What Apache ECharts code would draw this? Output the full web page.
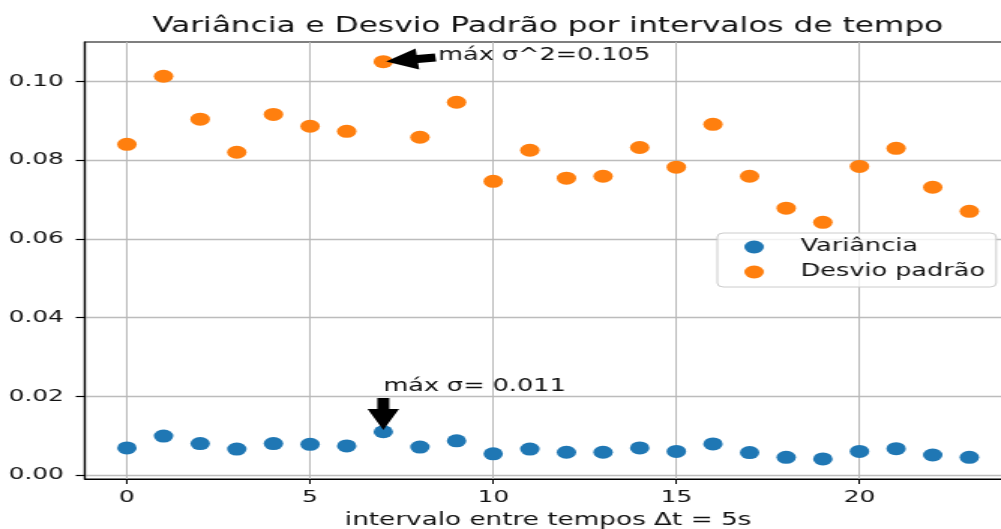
<!DOCTYPE html>
<html>
<head>
<meta charset="utf-8">
<script src="https://cdn.jsdelivr.net/npm/echarts@6/dist/echarts.min.js"></script>
<style>
  html, body { margin: 0; padding: 0; background: #fff; overflow: hidden; width: 1001px; height: 529px; }
  /* the figure is laid out on a narrower canvas and widened horizontally */
  #chart { width: 667px; height: 529px; transform: scaleX(1.5007); transform-origin: 0 0; }
</style>
</head>
<body>
<div id="chart"></div>
<script>
// time-window index (Δt = 5 s each)
const intervalos = [0, 1, 2, 3, 4, 5, 6, 7, 8, 9, 10, 11, 12, 13, 14, 15, 16, 17, 18, 19, 20, 21, 22, 23];

// "Variância" series (blue)
const variancia = [0.0069, 0.0099, 0.0080, 0.0066, 0.0080, 0.0078, 0.0074, 0.011, 0.0071, 0.0087,
                   0.0054, 0.0066, 0.0058, 0.0058, 0.0069, 0.0060, 0.0079, 0.0057, 0.0045, 0.0041,
                   0.0060, 0.0067, 0.0051, 0.0045];

// "Desvio padrão" series (orange)
const desvioPadrao = [0.0840, 0.1013, 0.0904, 0.0820, 0.0916, 0.0886, 0.0873, 0.105, 0.0858, 0.0947,
                      0.0746, 0.0825, 0.0754, 0.0759, 0.0832, 0.0782, 0.0891, 0.0759, 0.0678, 0.0642,
                      0.0784, 0.0830, 0.0731, 0.0670];

// axis ticks
const xTicks = [0, 5, 10, 15, 20];
const yTicks = [0.00, 0.02, 0.04, 0.06, 0.08, 0.10];

const FONT = 'DejaVu Sans';

function argMax(arr) {
  let k = 0;
  for (let i = 1; i < arr.length; i++) if (arr[i] > arr[k]) k = i;
  return k;
}
const iMaxDesvio = argMax(desvioPadrao);
const iMaxVar = argMax(variancia);

// annotations: label text anchored at its left baseline, arrow pointing at the maximum
const annotations = [
  {
    label: 'máx σ^2=' + desvioPadrao[iMaxDesvio].toFixed(3),
    point: [intervalos[iMaxDesvio], desvioPadrao[iMaxDesvio]],
    text: [8.5, 0.105],
    tail: [8.5, 0.1061]
  },
  {
    label: 'máx σ= ' + variancia[iMaxVar].toFixed(3),
    point: [intervalos[iMaxVar], variancia[iMaxVar]],
    text: [7, 0.021],
    tail: [7, 0.0200]
  }
];

function renderAnnotation(params, api) {
  const a = annotations[params.dataIndex];
  const tail = api.coord(a.tail);
  const target = api.coord(a.point);
  const txt = api.coord(a.text);
  const dx = target[0] - tail[0], dy = target[1] - tail[1];
  const len = Math.hypot(dx, dy);
  const ux = dx / len, uy = dy / len, nx = -uy, ny = ux;
  const shrink = 0.05 * len;
  const p0 = [tail[0] + ux * shrink, tail[1] + uy * shrink];
  const p1 = [target[0] - ux * shrink, target[1] - uy * shrink];
  const headLen = Math.min(21, len - 2 * shrink);
  const neck = [p1[0] - ux * headLen, p1[1] - uy * headLen];
  const w = 4, hw = 10.5;
  const pts = [
    [p0[0] + nx * w, p0[1] + ny * w],
    [neck[0] + nx * w, neck[1] + ny * w],
    [neck[0] + nx * hw, neck[1] + ny * hw],
    p1,
    [neck[0] - nx * hw, neck[1] - ny * hw],
    [neck[0] - nx * w, neck[1] - ny * w],
    [p0[0] - nx * w, p0[1] - ny * w]
  ];
  return {
    type: 'group',
    children: [
      { type: 'polygon', shape: { points: pts }, style: { fill: '#000' } },
      {
        type: 'text', x: txt[0], y: txt[1] + 2.4,
        style: { text: a.label, fontFamily: FONT, fontSize: 17, fill: '#111', align: 'left', verticalAlign: 'bottom' }
      }
    ]
  };
}

const chart = echarts.init(document.getElementById('chart'), null, { renderer: 'canvas' });

const axisLabelStyle = { fontFamily: FONT, fontSize: 16.5, color: '#111' };

chart.setOption({
  animation: false,
  backgroundColor: '#fff',
  title: {
    text: 'Variância e Desvio Padrão por intervalos de tempo',
    left: 360,
    top: 11,
    textAlign: 'center',
    textStyle: { fontFamily: FONT, fontSize: 20.8, fontWeight: 'normal', color: '#111' }
  },
  grid: {
    left: 56.5, right: -7, top: 42, bottom: 50,
    containLabel: false,
    outerBoundsMode: 'none',
    show: true, borderColor: '#000', borderWidth: 1.2, backgroundColor: 'transparent'
  },
  legend: {
    data: ['Variância', 'Desvio padrão'],
    orient: 'vertical',
    left: 478,
    top: 233,
    icon: 'circle',
    itemWidth: 26,
    itemHeight: 13,
    itemGap: 7,
    padding: [5, 7.5, 6, 18],
    backgroundColor: 'rgba(255,255,255,0.8)',
    borderColor: '#cccccc',
    borderWidth: 1,
    borderRadius: 4,
    textStyle: { fontFamily: FONT, fontSize: 17, color: '#111', lineHeight: 18, padding: [0, 0, 0, 13] }
  },
  xAxis: {
    type: 'value',
    min: -1.15,
    max: 24.15,
    name: 'intervalo entre tempos Δt = 5s',
    nameLocation: 'middle',
    nameGap: 32,
    nameTextStyle: { fontFamily: FONT, fontSize: 17.5, color: '#111' },
    axisLine: { show: true, onZero: false, lineStyle: { color: '#000', width: 1.2 } },
    axisTick: { show: true, length: 5, customValues: xTicks, lineStyle: { color: '#000', width: 1 } },
    axisLabel: { ...axisLabelStyle, margin: 10, customValues: xTicks, formatter: v => String(v) },
    splitLine: { show: true, lineStyle: { color: '#b8b8b8', width: 1 } }
  },
  yAxis: {
    type: 'value',
    min: -0.001,
    max: 0.110,
    axisLine: { show: true, onZero: false, lineStyle: { color: '#000', width: 1.2 } },
    axisTick: { show: true, length: 6, customValues: yTicks, lineStyle: { color: '#000', width: 1.2 } },
    axisLabel: { ...axisLabelStyle, margin: 14, customValues: yTicks, formatter: v => v.toFixed(2) },
    splitLine: { show: true, lineStyle: { color: '#bcbcbc', width: 1.3 } }
  },
  series: [
    {
      name: 'Variância',
      type: 'scatter',
      symbol: 'circle',
      symbolSize: 13,
      itemStyle: { color: '#1f77b4', opacity: 1 },
      data: intervalos.map((x, i) => [x, variancia[i]]),
      z: 3
    },
    {
      name: 'Desvio padrão',
      type: 'scatter',
      symbol: 'circle',
      symbolSize: 13,
      itemStyle: { color: '#ff7f0e', opacity: 1 },
      data: intervalos.map((x, i) => [x, desvioPadrao[i]]),
      z: 3
    },
    {
      name: 'anotacoes',
      type: 'custom',
      renderItem: renderAnnotation,
      data: annotations.map(a => a.point),
      encode: { x: 0, y: 1 },
      silent: true,
      z: 5
    }
  ]
});
</script>
</body>
</html>
